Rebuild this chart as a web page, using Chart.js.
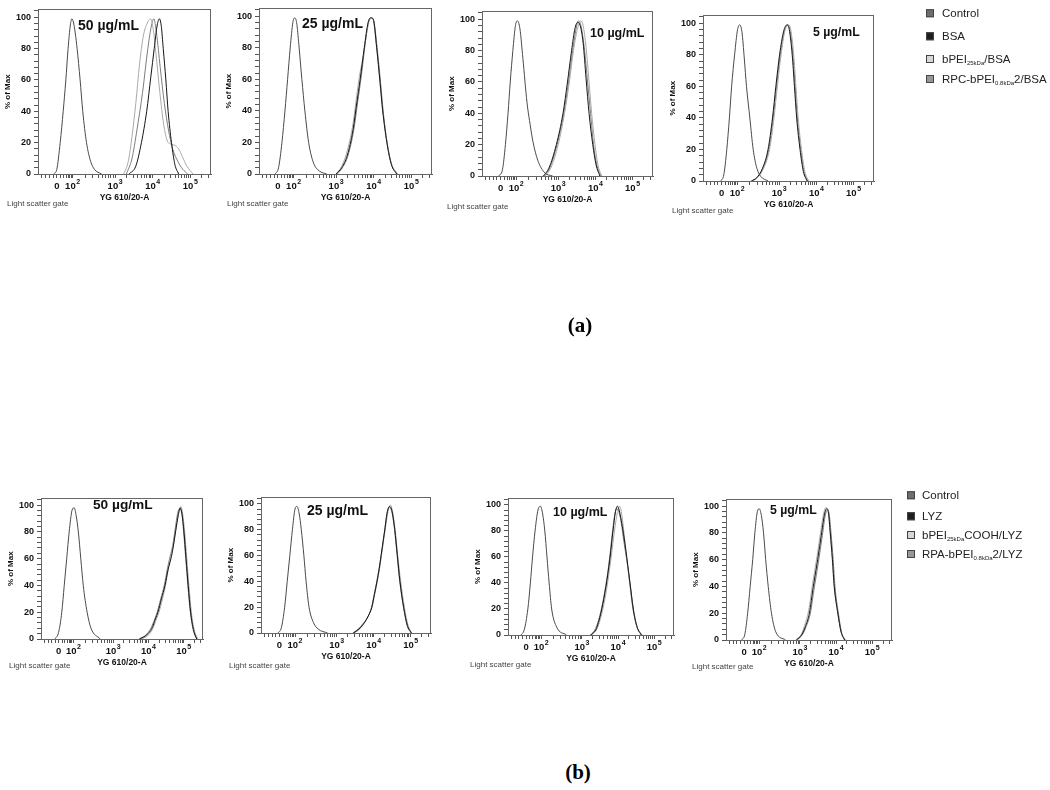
<!DOCTYPE html>
<html>
<head>
<meta charset="utf-8">
<script src="https://cdn.jsdelivr.net/npm/chart.js@4.4.0/dist/chart.umd.min.js"></script>
<style>
  body { margin: 0; background: #fff; width: 1050px; height: 790px; position: relative; overflow: hidden;
         font-family: "Liberation Sans", Arial, sans-serif; }
  .panel { position: absolute; }
  .conc { position: absolute; font-weight: bold; color: #111; white-space: nowrap; line-height: 1; transform: translateY(-50%); }
  .gate { position: absolute; font-size: 8px; color: #444; white-space: nowrap; line-height: 1; transform: translateY(-50%); }
  .leg { position: absolute; color: #222; white-space: nowrap; line-height: 1; transform: translateY(-50%); }
  .leg sub { font-size: 6px; vertical-align: -2px; }
  .sq { display: inline-block; width: 6px; height: 6px; border: 1px solid #444; vertical-align: 0; }
  .fig { position: absolute; font-family: "Liberation Serif", "Times New Roman", serif; font-weight: bold;
         font-size: 21px; transform: translate(-50%, -50%); }
</style>
</head>
<body>
<script>
// x axis is in display (logicle) units, ticks labelled as the cytometer shows them
const xTickLabels = ['0', '10^2', '10^3', '10^4', '10^5'];
const xTickPos = [0.5, 0.92, 2.05, 3.05, 4.05];
const yTickLabels = [0, 20, 40, 60, 80, 100];

const seriesA = ['Control', 'BSA', 'bPEI25kDa/BSA', 'RPC-bPEI0.8kDa2/BSA'];
const seriesB = ['Control', 'LYZ', 'bPEI25kDaCOOH/LYZ', 'RPA-bPEI0.8kDa2/LYZ'];
const concLabels = ['50 µg/mL', '25 µg/mL', '10 µg/mL', '5 µg/mL'];

// (a) BSA, 50 ug/mL
const a50Control = [[0.42,0],[0.5,3],[0.59,20],[0.67,40],[0.74,60],[0.8,80],[0.86,95],[0.9,99],[0.94,97],[0.99,90],[1.04,80],[1.12,60],[1.19,40],[1.29,20],[1.4,8],[1.5,3],[1.69,0]];
const a50BSA = [[2.42,0],[2.6,5],[2.75,20],[2.89,40],[3.0,62],[3.09,80],[3.17,95],[3.23,99],[3.28,94],[3.33,80],[3.4,60],[3.46,40],[3.55,20],[3.64,6],[3.74,0]];
const a50bPEI = [[2.28,0],[2.4,8],[2.5,24],[2.6,45],[2.7,70],[2.8,88],[2.92,97],[2.99,99],[3.06,93],[3.14,76],[3.24,52],[3.34,32],[3.44,21],[3.55,19],[3.66,18],[3.74,16],[3.84,11],[3.96,5],[4.12,0]];
const a50RPC = [[2.35,0],[2.5,10],[2.63,28],[2.78,52],[2.92,80],[3.02,95],[3.08,99],[3.15,90],[3.25,68],[3.36,45],[3.47,28],[3.58,16],[3.72,8],[3.85,3],[3.98,0]];

// (a) 25 ug/mL
const a25Control = [[0.43,0],[0.52,4],[0.61,20],[0.69,40],[0.76,60],[0.83,80],[0.9,96],[0.95,99],[1.0,96],[1.06,82],[1.14,60],[1.22,40],[1.32,20],[1.45,7],[1.6,2],[1.8,0]];
const a25BSA = [[2.05,0],[2.2,4],[2.35,12],[2.5,28],[2.6,45],[2.69,60],[2.8,80],[2.9,96],[2.97,99],[3.04,98],[3.13,80],[3.22,58],[3.29,40],[3.4,20],[3.52,6],[3.66,0]];
const a25bPEI = [[2.05,0],[2.2,5],[2.35,15],[2.5,32],[2.6,50],[2.67,62],[2.75,72],[2.85,88],[2.95,98],[3.02,99],[3.1,86],[3.2,62],[3.28,42],[3.39,22],[3.5,8],[3.68,0]];
const a25RPC = [[2.08,0],[2.22,4],[2.37,12],[2.52,28],[2.62,45],[2.72,62],[2.82,82],[2.92,97],[2.99,99],[3.06,96],[3.15,78],[3.24,56],[3.31,38],[3.42,18],[3.54,5],[3.68,0]];

// (a) 10 ug/mL
const a10Control = [[0.45,0],[0.55,4],[0.63,20],[0.7,40],[0.76,60],[0.83,80],[0.9,96],[0.95,99],[1.02,94],[1.1,75],[1.21,47],[1.3,32],[1.37,22],[1.5,10],[1.69,2],[1.9,0]];
const a10BSA = [[1.65,0],[1.8,5],[2.0,20],[2.18,40],[2.3,60],[2.41,80],[2.5,94],[2.57,98],[2.64,96],[2.72,85],[2.8,62],[2.88,40],[2.98,20],[3.07,7],[3.17,0]];
const a10bPEI = [[1.7,0],[1.85,5],[2.05,20],[2.22,40],[2.35,60],[2.46,80],[2.58,95],[2.66,99],[2.72,96],[2.8,82],[2.88,60],[2.95,40],[3.04,20],[3.12,7],[3.22,0]];
const a10RPC = [[1.68,0],[1.82,5],[2.02,20],[2.2,40],[2.33,60],[2.44,80],[2.54,95],[2.6,99],[2.67,95],[2.76,80],[2.84,60],[2.92,40],[3.0,20],[3.09,7],[3.2,0]];

// (a) 5 ug/mL
const a5Control = [[0.48,0],[0.56,4],[0.64,20],[0.71,40],[0.77,60],[0.85,80],[0.93,96],[0.99,99],[1.05,94],[1.11,78],[1.17,60],[1.26,40],[1.35,20],[1.45,8],[1.55,3],[1.75,0]];
const a5BSA = [[1.3,0],[1.44,2],[1.6,8],[1.75,20],[1.87,40],[1.96,60],[2.06,80],[2.17,95],[2.26,99],[2.32,96],[2.4,80],[2.46,60],[2.52,40],[2.61,20],[2.7,6],[2.8,0]];
const a5bPEI = [[1.32,0],[1.46,2],[1.63,8],[1.79,20],[1.91,40],[2.0,60],[2.1,80],[2.2,95],[2.3,99],[2.36,96],[2.44,80],[2.5,60],[2.56,40],[2.65,20],[2.74,6],[2.84,0]];
const a5RPC = [[1.31,0],[1.45,2],[1.61,8],[1.77,20],[1.89,40],[1.98,60],[2.08,80],[2.19,95],[2.28,99],[2.34,96],[2.42,80],[2.48,60],[2.54,40],[2.63,20],[2.72,6],[2.82,0]];

// (b) LYZ, 50 ug/mL
const b50Control = [[0.4,0],[0.5,5],[0.59,20],[0.66,40],[0.73,60],[0.8,80],[0.88,96],[0.94,98],[1.0,92],[1.06,80],[1.13,60],[1.2,40],[1.31,20],[1.42,8],[1.68,0]];
const b50LYZ = [[2.8,0],[3.0,3],[3.15,8],[3.25,15],[3.32,20],[3.42,30],[3.52,40],[3.61,52],[3.69,60],[3.75,68],[3.82,80],[3.9,93],[3.95,98],[4.0,94],[4.06,80],[4.12,60],[4.18,40],[4.25,20],[4.33,7],[4.42,0]];
const b50bPEI = [[2.85,0],[3.05,3],[3.18,8],[3.28,15],[3.35,20],[3.45,30],[3.55,42],[3.63,55],[3.7,64],[3.77,72],[3.85,85],[3.92,95],[3.97,99],[4.02,94],[4.08,80],[4.14,60],[4.2,40],[4.27,20],[4.35,7],[4.45,0]];
const b50RPA = [[2.78,0],[2.98,3],[3.12,8],[3.23,15],[3.3,20],[3.4,30],[3.5,40],[3.6,54],[3.67,62],[3.74,70],[3.81,82],[3.88,94],[3.93,97],[3.99,95],[4.05,80],[4.11,60],[4.17,40],[4.24,20],[4.32,7],[4.42,0]];

// (b) 25 ug/mL
const b25Control = [[0.46,0],[0.55,4],[0.64,20],[0.71,40],[0.78,60],[0.85,80],[0.92,96],[0.97,98],[1.03,93],[1.09,80],[1.16,60],[1.22,40],[1.3,20],[1.42,8],[1.55,3],[1.8,0]];
const b25LYZ = [[2.5,0],[2.65,3],[2.8,8],[2.9,13],[3.0,20],[3.07,30],[3.14,40],[3.2,50],[3.25,60],[3.35,80],[3.42,94],[3.48,98],[3.54,95],[3.62,80],[3.69,60],[3.76,40],[3.86,20],[3.96,6],[4.07,0]];
const b25bPEI = [[2.52,0],[2.67,3],[2.82,9],[2.92,14],[3.02,22],[3.09,32],[3.16,42],[3.22,52],[3.27,62],[3.36,80],[3.43,93],[3.5,99],[3.56,94],[3.63,80],[3.7,60],[3.78,40],[3.88,20],[3.98,6],[4.08,0]];
const b25RPA = [[2.48,0],[2.63,3],[2.78,8],[2.88,12],[2.98,19],[3.05,28],[3.12,38],[3.19,49],[3.24,58],[3.34,78],[3.41,93],[3.47,97],[3.53,95],[3.61,81],[3.68,61],[3.75,41],[3.85,21],[3.95,6],[4.06,0]];

// (b) 10 ug/mL
const b10Control = [[0.36,0],[0.45,4],[0.55,20],[0.62,40],[0.68,60],[0.75,80],[0.83,96],[0.9,99],[0.96,93],[1.02,80],[1.08,60],[1.14,40],[1.21,20],[1.35,6],[1.62,0]];
const b10LYZ = [[2.3,0],[2.45,5],[2.6,20],[2.73,40],[2.83,60],[2.91,80],[2.98,95],[3.03,99],[3.08,96],[3.14,88],[3.2,78],[3.29,60],[3.38,40],[3.47,20],[3.58,6],[3.7,0]];
const b10bPEI = [[2.32,0],[2.47,5],[2.63,20],[2.76,40],[2.86,60],[2.95,80],[3.03,94],[3.09,99],[3.14,95],[3.2,82],[3.28,62],[3.36,42],[3.45,22],[3.55,8],[3.68,0]];
const b10RPA = [[2.28,0],[2.43,5],[2.58,19],[2.71,38],[2.81,58],[2.89,78],[2.96,93],[3.01,97],[3.07,95],[3.14,86],[3.21,72],[3.3,56],[3.39,38],[3.48,19],[3.59,5],[3.72,0]];

// (b) 5 ug/mL
const b5Control = [[0.43,0],[0.52,4],[0.6,20],[0.67,40],[0.74,60],[0.8,80],[0.87,96],[0.92,98],[0.98,93],[1.04,80],[1.1,60],[1.17,40],[1.26,20],[1.38,6],[1.65,0]];
const b5LYZ = [[1.95,0],[2.1,4],[2.2,10],[2.31,20],[2.42,40],[2.54,60],[2.65,80],[2.73,94],[2.79,98],[2.84,95],[2.89,80],[2.95,60],[3.0,40],[3.1,20],[3.19,6],[3.29,0]];
const b5bPEI = [[1.93,0],[2.08,4],[2.18,11],[2.29,22],[2.4,42],[2.52,62],[2.63,82],[2.71,95],[2.77,99],[2.83,96],[2.88,82],[2.94,62],[2.99,42],[3.09,21],[3.18,7],[3.28,0]];
const b5RPA = [[1.97,0],[2.12,4],[2.22,10],[2.33,19],[2.44,38],[2.56,58],[2.67,78],[2.75,93],[2.81,97],[2.86,94],[2.91,80],[2.97,60],[3.02,40],[3.12,19],[3.21,5],[3.31,0]];

const lineColors = ['#4a4a4a', '#151515', '#a9a9a9', '#7c7c7c'];
const squareColors = ['#6e6e6e', '#1e1e1e', '#d6d6d6', '#979797'];

// frame = [left, right, top, bottom] of each plot box on the page
const panels = [
  { frame: [38, 211, 5, 174],   conc: 0, cx: 78,  cy: 25,  cs: 14,   gate: [7, 204],   names: seriesA, data: [a50Control, a50BSA, a50bPEI, a50RPC] },
  { frame: [259, 432, 4, 174],  conc: 1, cx: 302, cy: 23,  cs: 14,   gate: [227, 204], names: seriesA, data: [a25Control, a25BSA, a25bPEI, a25RPC] },
  { frame: [482, 653, 7, 176],  conc: 2, cx: 590, cy: 33,  cs: 12.5, gate: [447, 207], names: seriesA, data: [a10Control, a10BSA, a10bPEI, a10RPC] },
  { frame: [703, 874, 11, 181], conc: 3, cx: 813, cy: 32,  cs: 12.3, gate: [672, 211], names: seriesA, data: [a5Control, a5BSA, a5bPEI, a5RPC] },
  { frame: [41, 203, 494, 639], conc: 0, cx: 93,  cy: 505, cs: 13.7, gate: [9, 666],   names: seriesB, data: [b50Control, b50LYZ, b50bPEI, b50RPA] },
  { frame: [261, 431, 493, 633],conc: 1, cx: 307, cy: 510, cs: 14,   gate: [229, 666], names: seriesB, data: [b25Control, b25LYZ, b25bPEI, b25RPA] },
  { frame: [508, 674, 494, 635],conc: 2, cx: 553, cy: 512, cs: 12.5, gate: [470, 665], names: seriesB, data: [b10Control, b10LYZ, b10bPEI, b10RPA] },
  { frame: [726, 892, 495, 640],conc: 3, cx: 770, cy: 510, cs: 12.3, gate: [692, 667], names: seriesB, data: [b5Control, b5LYZ, b5bPEI, b5RPA] }
];

// minor tick positions on the logicle axis (major ones plus decade subdivisions)
const xTickValues = (() => {
  const v = [0.1, 0.2, 0.3, 0.4, 0.5, 0.6, 0.68, 0.75, 0.8, 0.85, 0.88, 0.92];
  const starts = [[0.92, 1.13], [2.05, 1.0], [3.05, 1.0]];
  starts.forEach(([s, span]) => {
    for (let k = 2; k <= 9; k++) v.push(s + Math.log10(k) * span);
    v.push(s + span);
  });
  for (let k = 2; k <= 3; k++) v.push(4.05 + Math.log10(k));
  return v;
})();
const yTickValues = Array.from({ length: 27 }, (_, i) => i * 4);

const framePlugin = {
  id: 'frame',
  afterDraw(chart) {
    const { ctx, chartArea: a } = chart;
    ctx.save();
    ctx.strokeStyle = '#666';
    ctx.lineWidth = 1;
    ctx.strokeRect(Math.round(a.left) + 0.5, Math.round(a.top) + 0.5, Math.round(a.right - a.left) - 1, Math.round(a.bottom - a.top));

    // x tick labels with proper raised exponents
    const xs = chart.scales.x;
    ctx.fillStyle = '#111';
    ctx.textBaseline = 'alphabetic';
    const base = a.bottom + 15;
    xTickLabels.forEach((lab, i) => {
      const px = xs.getPixelForValue(xTickPos[i]);
      const [m, e] = lab.split('^');
      ctx.font = 'bold 9.5px "Liberation Sans", Arial, sans-serif';
      const wm = ctx.measureText(m).width;
      let we = 0;
      if (e) { ctx.font = 'bold 7px "Liberation Sans", Arial, sans-serif'; we = ctx.measureText(e).width + 0.5; }
      const x0 = px - (wm + we) / 2;
      ctx.font = 'bold 9.5px "Liberation Sans", Arial, sans-serif';
      ctx.textAlign = 'left';
      ctx.fillText(m, x0, base);
      if (e) {
        ctx.font = 'bold 7px "Liberation Sans", Arial, sans-serif';
        ctx.fillText(e, x0 + wm + 0.5, base - 5);
      }
    });
    ctx.restore();
  }
};

const padTop = 4, padRight = 12, yW = 38, xH = 29;

panels.forEach(p => {
  const [L, R, T, B] = p.frame;
  const div = document.createElement('div');
  div.className = 'panel';
  div.style.left = (L - yW) + 'px';
  div.style.top = (T - padTop) + 'px';
  div.style.width = (R - L + yW + padRight) + 'px';
  div.style.height = (B - T + padTop + xH) + 'px';
  const cv = document.createElement('canvas');
  div.appendChild(cv);
  document.body.appendChild(div);

  new Chart(cv, {
    type: 'line',
    data: {
      datasets: p.data.map((pts, i) => ({
        label: p.names[i],
        data: pts.map(([x, y]) => ({ x, y })),
        borderColor: lineColors[i],
        borderWidth: 1,
        pointRadius: 0,
        fill: false,
        cubicInterpolationMode: 'monotone'
      }))
    },
    options: {
      responsive: true,
      maintainAspectRatio: false,
      animation: false,
      layout: { padding: { top: padTop, right: padRight, left: 0, bottom: 0 } },
      plugins: { legend: { display: false }, tooltip: { enabled: false } },
      scales: {
        x: {
          type: 'linear', min: 0, max: 4.6,
          afterBuildTicks: s => { s.ticks = xTickValues.map(v => ({ value: v })); },
          afterFit: s => { s.height = xH; },
          ticks: { autoSkip: false, maxRotation: 0, padding: 2, callback: () => '' },
          grid: { drawOnChartArea: false, tickLength: 4, color: '#555' },
          border: { color: '#555' },
          title: { display: true, text: 'YG 610/20-A', color: '#111', padding: 0,
                   font: { family: 'Liberation Sans', size: 8.5, weight: 'bold' } }
        },
        y: {
          type: 'linear', min: 0, max: 105,
          afterBuildTicks: s => { s.ticks = yTickValues.map(v => ({ value: v })); },
          afterFit: s => { s.width = yW; },
          ticks: {
            autoSkip: false, padding: 3, color: '#111',
            font: { family: 'Liberation Sans', size: 9, weight: 'bold' },
            callback: v => yTickLabels.includes(v) ? String(v) : ''
          },
          grid: { drawOnChartArea: false, tickLength: 4, color: '#555' },
          border: { color: '#555' },
          title: { display: true, text: '% of Max', color: '#111', padding: { top: 3, bottom: 0 },
                   font: { family: 'Liberation Sans', size: 8, weight: 'bold' } }
        }
      }
    },
    plugins: [framePlugin]
  });

  const c = document.createElement('div');
  c.className = 'conc';
  c.style.left = p.cx + 'px';
  c.style.top = p.cy + 'px';
  c.style.fontSize = p.cs + 'px';
  c.textContent = concLabels[p.conc];
  document.body.appendChild(c);

  const g = document.createElement('div');
  g.className = 'gate';
  g.style.left = p.gate[0] + 'px';
  g.style.top = p.gate[1] + 'px';
  g.textContent = 'Light scatter gate';
  document.body.appendChild(g);
});

// legends, written by hand because of the subscripts
const legendA = ['Control', 'BSA', 'bPEI<sub>25kDa</sub>/BSA', 'RPC-bPEI<sub>0.8kDa</sub>2/BSA'];
const legendB = ['Control', 'LYZ', 'bPEI<sub>25kDa</sub>COOH/LYZ', 'RPA-bPEI<sub>0.8kDa</sub>2/LYZ'];
function drawLegend(items, x, ys, size, weight, gap) {
  items.forEach((html, i) => {
    const d = document.createElement('div');
    d.className = 'leg';
    d.style.left = x + 'px';
    d.style.top = ys[i] + 'px';
    d.style.fontSize = size + 'px';
    d.style.fontWeight = weight;
    d.innerHTML = `<span class="sq" style="background:${squareColors[i]};margin-right:${gap}px"></span>${html}`;
    document.body.appendChild(d);
  });
}
drawLegend(legendA, 926, [14, 37, 60, 80], 11.5, 'normal', 8);
drawLegend(legendB, 907, [496, 517, 536, 555], 11.5, 'normal', 7);

[['(a)', 580, 325], ['(b)', 578, 772]].forEach(([t, x, y]) => {
  const d = document.createElement('div');
  d.className = 'fig';
  d.style.left = x + 'px';
  d.style.top = y + 'px';
  d.textContent = t;
  document.body.appendChild(d);
});
</script>
</body>
</html>
